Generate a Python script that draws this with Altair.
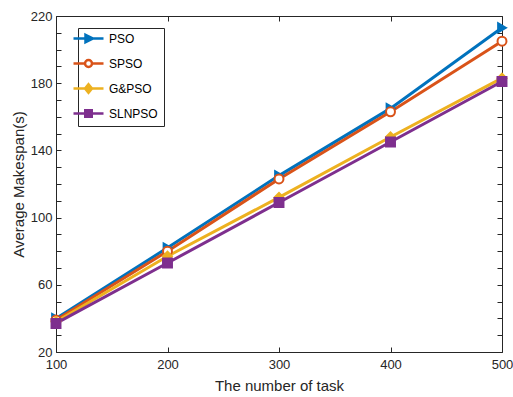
import altair as alt
import pandas as pd

# ---- data ----
tasks = [100, 200, 300, 400, 500]
pso = [40, 82, 125, 165, 213]
spso = [39, 80, 123, 163, 205]
gpso = [38, 77, 112, 148, 183]
slnpso = [37, 73, 109, 145, 181]

series_names = ["PSO", "SPSO", "G&PSO", "SLNPSO"]
series_values = [pso, spso, gpso, slnpso]
series_colors = ["#0072BD", "#D95319", "#EDB120", "#7E2F8E"]
series_fills = ["#0072BD", "#FFFFFF", "#EDB120", "#7E2F8E"]
marker_shapes = ["triangle-right", "circle", "diamond", "square"]
legend_shapes = [
    "M-3,0H3M-0.6,-0.75L0.9,0L-0.6,0.75Z",
    "M-3,0H-0.7M0.7,0H3M-0.7,0A0.7,0.7,0,1,0,0.7,0A0.7,0.7,0,1,0,-0.7,0Z",
    "M-3,0H3M0,-0.85L0.7,0L0,0.85L-0.7,0Z",
    "M-3,0H3M-0.65,-0.65H0.65V0.65H-0.65Z",
]

x_ticks = [100, 200, 300, 400, 500]
y_ticks = [20, 30, 40, 50, 60, 70, 80, 90, 100, 110, 120, 130, 140, 150,
           160, 170, 180, 190, 200, 210, 220]
y_labels = [20, 60, 100, 140, 180, 220]

rows = []
for k, (name, vals) in enumerate(zip(series_names, series_values)):
    for t, v in zip(tasks, vals):
        rows.append({"series": name, "k": k, "task": t, "value": v})
df = pd.DataFrame(rows)

TXT = "#262626"
FONT = "Liberation Sans"

x_scale = alt.Scale(domain=[100, 500], nice=False, zero=False)
y_scale = alt.Scale(domain=[20, 220], nice=False, zero=False)

label_expr = "indexof([" + ",".join(str(v) for v in y_labels) + "], datum.value) >= 0 ? datum.label : ''"

common_axis = dict(offset=-5, tickSize=5, domain=False, grid=False,
                   tickColor=TXT, tickWidth=1, labelFlush=False)

x_bottom = alt.Axis(values=x_ticks, orient="bottom", title="The number of task",
                    labelPadding=6, titlePadding=7, **common_axis)
y_left = alt.Axis(values=y_ticks, orient="left", title="Average Makespan(s)",
                  labelExpr=label_expr, labelPadding=4, titlePadding=4,
                  **common_axis)
x_top = alt.Axis(values=x_ticks, orient="top", title=None, labels=False, **common_axis)
y_right = alt.Axis(values=y_ticks, orient="right", title=None, labels=False, **common_axis)

color_scale = alt.Scale(domain=series_names, range=series_colors)
fill_scale = alt.Scale(domain=series_names, range=series_fills)

base = alt.Chart(df)

lines = base.mark_line(strokeWidth=3).encode(
    x=alt.X("task:Q", scale=x_scale, axis=x_bottom),
    y=alt.Y("value:Q", scale=y_scale, axis=y_left),
    color=alt.Color("series:N", scale=color_scale, legend=None),
    detail="k:O",
)

points = base.mark_point(filled=True, size=80, strokeWidth=2, opacity=1).encode(
    x=alt.X("task:Q", scale=x_scale, axis=x_top),
    y=alt.Y("value:Q", scale=y_scale, axis=y_right),
    fill=alt.Fill("series:N", scale=fill_scale, legend=None),
    stroke=alt.Stroke("series:N", scale=color_scale, legend=None),
    shape=alt.Shape("series:N", scale=alt.Scale(domain=series_names, range=marker_shapes), legend=None),
)

leg = alt.Legend(title="\u2003", titleOrient="right", titlePadding=2, titleFontSize=12,
                 orient="none", legendX=22, legendY=12,
                 symbolSize=100, symbolStrokeWidth=2.5,
                 labelFont=FONT, labelFontSize=12, labelColor="#000000",
                 labelOffset=14, rowPadding=7, padding=4,
                 strokeColor=TXT, fillColor="white")

legend_layer = base.transform_filter("false").mark_point(
    filled=True, size=100, strokeWidth=2.5, opacity=1
).encode(
    x=alt.X("task:Q", scale=x_scale, axis=None),
    y=alt.Y("value:Q", scale=y_scale, axis=None),
    fill=alt.Fill("series:N", scale=fill_scale, legend=leg),
    stroke=alt.Stroke("series:N", scale=color_scale, legend=leg),
    shape=alt.Shape("series:N", scale=alt.Scale(domain=series_names, range=legend_shapes), legend=leg),
)

chart = alt.layer(lines, points, legend_layer).resolve_scale(
    color="independent", fill="independent", stroke="independent", shape="independent"
).resolve_axis(
    x="independent", y="independent"
).properties(
    width=446, height=336,
    padding={"left": 56, "top": 16, "right": 11, "bottom": 45},
    autosize=alt.AutoSizeParams(type="none"),
).configure(font=FONT).configure_view(
    stroke=TXT, strokeWidth=1
).configure_axis(
    labelFont=FONT, labelFontSize=13, labelColor=TXT,
    titleFont=FONT, titleFontSize=15, titleColor=TXT, titleFontWeight="normal",
)

chart.save("out.html", embed_options={"renderer": "svg", "actions": False})
